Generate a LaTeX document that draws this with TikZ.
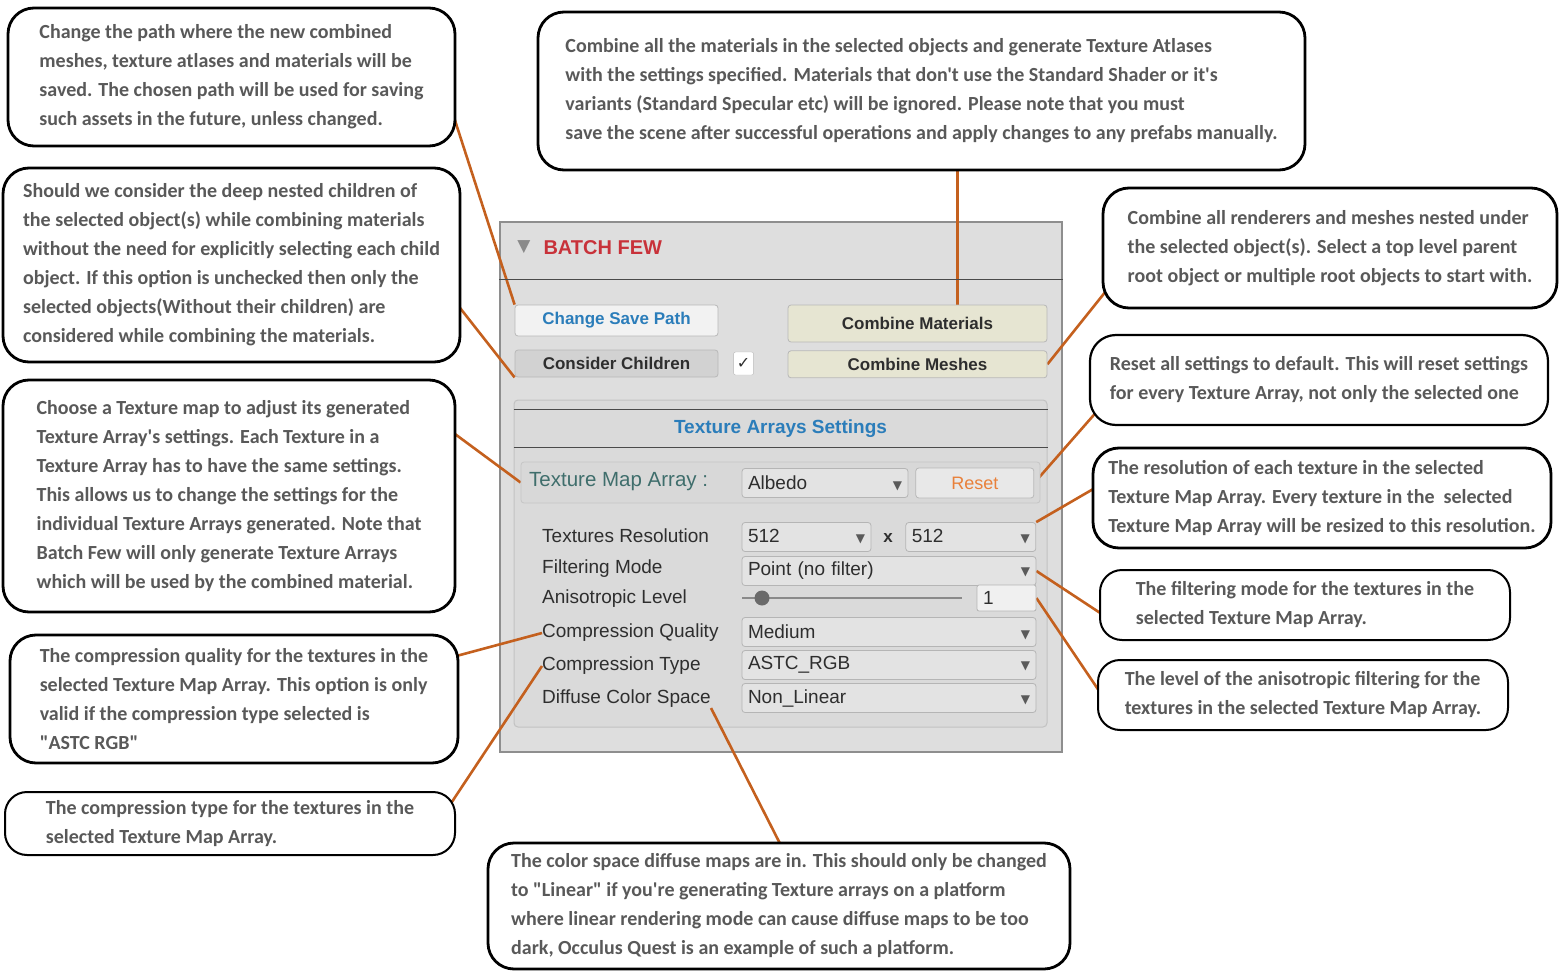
\documentclass[tikz,border=0pt]{standalone}
\usepackage{fontspec}
\usepackage{tikz}
\usetikzlibrary{positioning}

\newfontfamily\notefont{Carlito}
\newfontfamily\uifont{Liberation Sans}
\newfontfamily\symfont{DejaVu Sans}

\definecolor{notegray}{HTML}{595959}
\definecolor{linkorange}{HTML}{C4601E}
\definecolor{panelfill}{HTML}{DEDEDE}
\definecolor{paneledge}{HTML}{8E8E8E}
\definecolor{groupfill}{HTML}{DADADA}
\definecolor{groupedge}{HTML}{C2C2C2}
\definecolor{headline}{HTML}{4A4A4A}
\definecolor{titlered}{HTML}{C8323A}
\definecolor{foldgray}{HTML}{8A8A8A}
\definecolor{uiblue}{HTML}{2B7DBA}
\definecolor{uitext}{HTML}{2E2E2E}
\definecolor{savefill}{HTML}{F2F2F2}
\definecolor{childfill}{HTML}{D2D2D2}
\definecolor{combfill}{HTML}{E6E5D2}
\definecolor{btnedge}{HTML}{B8B8B8}
\definecolor{rowfill}{HTML}{D8D8D8}
\definecolor{rowedge}{HTML}{C6C6C6}
\definecolor{mapteal}{HTML}{3F6E6C}
\definecolor{dropfill}{HTML}{E3E3E3}
\definecolor{dropedge}{HTML}{B5B5B5}
\definecolor{resetfill}{HTML}{E8E8E8}
\definecolor{resetorange}{HTML}{E8803A}
\definecolor{arrowgray}{HTML}{5A5A5A}
\definecolor{knobgray}{HTML}{6A6A6A}
\definecolor{trackgray}{HTML}{8A8A8A}
\definecolor{fieldfill}{HTML}{F0F0F0}

\newcommand\ddarrow{\hskip 0pt plus 1filll{\symfont\fontsize{12}{12}\selectfont\textcolor{arrowgray}{▼}}}

\pgfdeclarelayer{bg}
\pgfdeclarelayer{links}
\pgfsetlayers{bg,links,main}

\begin{document}
\begin{tikzpicture}[x=1pt, y=-1pt,
  note/.style={draw=black, line width=2.8pt, rounded corners=26pt, fill=white, align=left, inner sep=0pt, text=notegray, font=\notefont\bfseries\fontsize{20}{29}\selectfont},
  link/.style={draw=linkorange, line width=2.6pt, shorten <=-14pt},
  btn/.style={draw=btnedge, rounded corners=3pt, line width=0.8pt, text=uitext, font=\uifont\bfseries\fontsize{17}{20}\selectfont},
  drop/.style={draw=dropedge, fill=dropfill, rounded corners=3pt, line width=0.8pt, minimum height=29pt, inner xsep=6pt, inner ysep=0pt, align=left, text=uitext, font=\uifont\fontsize{19}{22}\selectfont},
  rowtext/.style={anchor=west, inner sep=0pt, text=uitext, font=\uifont\fontsize{19}{22}\selectfont}]
\useasboundingbox (0,0) rectangle (1559,971);

\node (savenote) [note, minimum width=447pt, minimum height=138pt] at (231.5,77) {Change the path where the new combined\\meshes, texture atlases and materials will be\\saved. The chosen path will be used for saving\\such assets in the future, unless changed.};
\node (childnote) [note, minimum width=457pt, minimum height=194pt] at (231.5,265) {Should we consider the deep nested children of\\the selected object(s) while combining materials\\without the need for explicitly selecting each child\\object. If this option is unchecked then only the\\selected objects(Without their children) are\\considered while combining the materials.};
\node (mapnote) [note, minimum width=452pt, minimum height=232pt] at (229,496) {Choose a Texture map to adjust its generated\\Texture Array's settings. Each Texture in a\\Texture Array has to have the same settings.\\This allows us to change the settings for the\\individual Texture Arrays generated. Note that\\Batch Few will only generate Texture Arrays\\which will be used by the combined material.};
\node (qualnote) [note, minimum width=448pt, minimum height=128pt] at (234,699) {The compression quality for the textures in the\\selected Texture Map Array. This option is only\\valid if the compression type selected is\\"ASTC RGB"};
\node (typenote) [note, line width=2pt, rounded corners=22pt, minimum width=450pt, minimum height=63pt] at (230,823.5) {The compression type for the textures in the\\selected Texture Map Array.};

\node (matnote) [note, minimum width=767pt, minimum height=158pt] at (921.5,91) {Combine all the materials in the selected objects and generate Texture Atlases\\with the settings specified. Materials that don't use the Standard Shader or it's\\variants (Standard Specular etc) will be ignored. Please note that you must\\save the scene after successful operations and apply changes to any prefabs manually.};
\node (spacenote) [note, minimum width=582pt, minimum height=126pt] at (779,906) {The color space diffuse maps are in. This should only be changed\\to "Linear" if you're generating Texture arrays on a platform\\where linear rendering mode can cause diffuse maps to be too\\dark, Occulus Quest is an example of such a platform.};

\node (meshnote) [note, minimum width=454pt, minimum height=120pt] at (1330,248) {Combine all renderers and meshes nested under\\the selected object(s). Select a top level parent\\root object or multiple root objects to start with.};
\node (resetnote) [note, line width=2.2pt, minimum width=458pt, minimum height=90pt] at (1319,380) {Reset all settings to default. This will reset settings\\for every Texture Array, not only the selected one};
\node (resnote) [note, minimum width=458pt, minimum height=100pt] at (1322,498) {The resolution of each texture in the selected\\Texture Map Array. Every texture in the\ \ selected\\Texture Map Array will be resized to this resolution.};
\node (filternote) [note, line width=2pt, rounded corners=22pt, minimum width=410pt, minimum height=70pt] at (1305,605) {The filtering mode for the textures in the\\selected Texture Map Array.};
\node (anisonote) [note, line width=2pt, rounded corners=22pt, minimum width=410pt, minimum height=70pt] at (1303,695) {The level of the anisotropic filtering for the\\textures in the selected Texture Map Array.};

\begin{pgfonlayer}{bg}
\node (panel) [draw=paneledge, fill=panelfill, line width=1.5pt, minimum width=562pt, minimum height=530pt] at (781,487) {};
\node (group) [draw=groupedge, fill=groupfill, rounded corners=4pt, line width=1pt, minimum width=533pt, minimum height=327pt] at (780.5,563.5) {};
\end{pgfonlayer}
\draw[headline, line width=1.3pt] ([yshift=-58pt]panel.north west) -- ([yshift=-58pt]panel.north east);
\node (fold) [text=foldgray, font=\symfont\fontsize{17}{17}\selectfont] at (524,247) {▼};
\node (title) [anchor=west, text=titlered, font=\uifont\bfseries\fontsize{20}{24}\selectfont] at (540,248) {BATCH FEW};

\node (savebtn) [btn, fill=savefill, text=uiblue, minimum width=203pt, minimum height=31pt] at (616.5,320.5) {Change Save Path};
\node (childbtn) [btn, fill=childfill, minimum width=203pt, minimum height=27pt] at (616.5,363.5) {Consider Children};
\node (checkbox) [draw=btnedge, fill=white, rounded corners=2pt, minimum width=20pt, minimum height=23pt, inner sep=0pt, text=uitext, font=\symfont\fontsize{16}{16}\selectfont, right=15pt of childbtn] {✓};
\node (matbtn) [btn, fill=combfill, minimum width=259pt, minimum height=37pt] at (917.5,323.5) {Combine Materials};
\node (meshbtn) [btn, fill=combfill, minimum width=259pt, minimum height=27pt, below=8pt of matbtn] {Combine Meshes};

\draw[headline, line width=1.3pt] ([yshift=-10pt]group.north west) -- ([yshift=-10pt]group.north east);
\draw[headline, line width=1.3pt] ([yshift=-48pt]group.north west) -- ([yshift=-48pt]group.north east);
\node (settitle) [text=uiblue, font=\uifont\bfseries\fontsize{19}{22}\selectfont] at (780.5,429) {Texture Arrays Settings};

\node (maprow) [draw=rowedge, fill=rowfill, rounded corners=3pt, line width=0.8pt, minimum width=519pt, minimum height=41pt] at (780.5,482.5) {};
\node (maplabel) [rowtext, text=mapteal, font=\uifont\fontsize{20.5}{24}\selectfont] at (529,482) {Texture Map Array :};
\node (albedo) [drop, text width=154pt] at (825,483) {Albedo\ddarrow};
\node (resetbtn) [draw=btnedge, fill=resetfill, rounded corners=3pt, line width=0.8pt, minimum width=118pt, minimum height=30pt, text=resetorange, font=\uifont\fontsize{18}{21}\selectfont, right=7pt of albedo] {Reset};

\node (reslabel) [rowtext] at (542,536) {Textures Resolution};
\node (res1) [drop, text width=117pt] at (806.5,537) {512\ddarrow};
\node (times) [text=uitext, font=\uifont\bfseries\fontsize{17}{20}\selectfont] at (888,538) {x};
\node (res2) [drop, text width=118pt, right=34pt of res1] {512\ddarrow};

\node (filterlabel) [rowtext] at (542,569) {Filtering Mode};
\node (filterbox) [drop, text width=282pt] at (889,571) {Point (no filter)\ddarrow};

\node (levellabel) [rowtext] at (542,599) {Anisotropic Level};
\coordinate (trackl) at (742,598);
\coordinate (trackr) at (962,598);
\draw[trackgray, line width=2.2pt] (trackl) -- (trackr);
\node (knob) [circle, fill=knobgray, minimum size=15pt, inner sep=0pt] at (762,598) {};
\node (levelbox) [draw=dropedge, fill=fieldfill, rounded corners=2pt, line width=0.8pt, minimum height=26pt, text width=47pt, inner xsep=6pt, inner ysep=0pt, align=left, text=uitext, font=\uifont\fontsize{19}{22}\selectfont] at (1006.5,598) {1};

\node (quallabel) [rowtext] at (542,633) {Compression Quality};
\node (qualbox) [drop, text width=282pt] at (889,632) {Medium\ddarrow};
\node (typelabel) [rowtext] at (542,666) {Compression Type};
\node (typebox) [drop, text width=282pt] at (889,665) {ASTC\_RGB\ddarrow};
\node (spacelabel) [rowtext] at (542,699) {Diffuse Color Space};
\node (spacebox) [drop, text width=282pt] at (889,698) {Non\_Linear\ddarrow};

\begin{pgfonlayer}{links}
\draw[link] (savenote.-12) -- (savebtn.north west);
\draw[link] (childnote.-11) -- (childbtn.south west);
\draw[link] (mapnote.15) -- (maprow.west);
\draw[link] (qualnote.11) -- (quallabel.west);
\draw[link] (typenote.7) -- (typelabel.west);
\draw[link] (matnote.-66) -- (matnote.-66 |- matbtn.north);
\draw[link] (spacenote.north) -- (spacelabel.south east);
\draw[link] (meshnote.192) -- (meshbtn.east);
\draw[link] (resetnote.190) -- (resetbtn.east);
\draw[link] (resnote.178) -- (res2.north east);
\draw[link] (filternote.182) -- (filterbox.east);
\draw[link] (anisonote.178) -- (levelbox.east);
\end{pgfonlayer}

\end{tikzpicture}
\end{document}
